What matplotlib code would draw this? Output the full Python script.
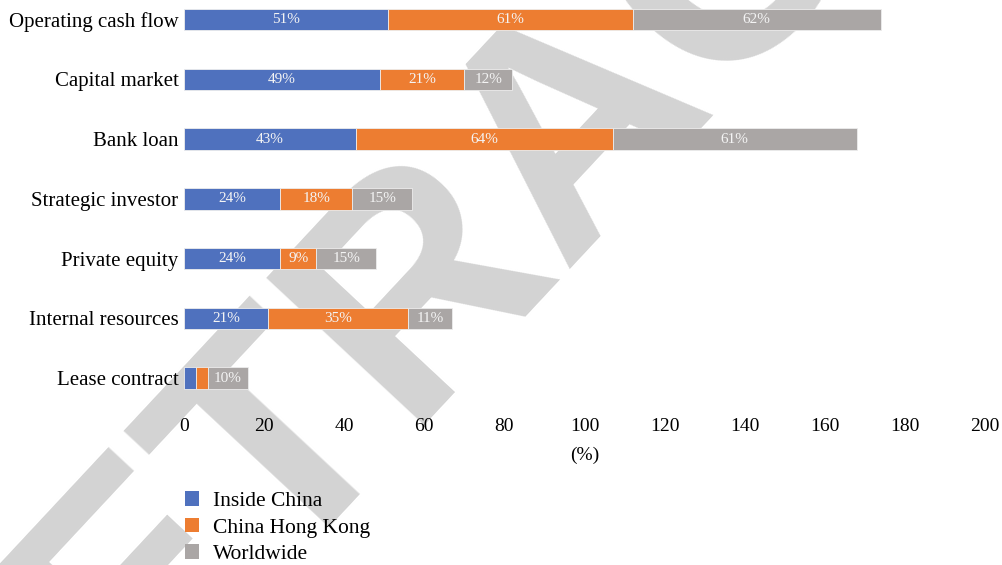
import numpy as np
import matplotlib
matplotlib.use("Agg")
import matplotlib.pyplot as plt
from matplotlib.patches import Patch

plt.rcParams['font.family'] = ['Liberation Serif', 'DejaVu Serif']

categories = ['Operating cash flow', 'Capital market', 'Bank loan', 'Strategic investor',
              'Private equity', 'Internal resources', 'Lease contract']
inside_china = [51, 49, 43, 24, 24, 21, 3]
hong_kong = [61, 21, 64, 18, 9, 35, 3]
worldwide = [62, 12, 61, 15, 15, 11, 10]
series_names = ['Inside China', 'China Hong Kong', 'Worldwide']
colors = ['#4F71BE', '#ED7D31', '#AAA6A5']
xticks = [0, 20, 40, 60, 80, 100, 120, 140, 160, 180, 200]

fig = plt.figure(figsize=(10.03, 5.65), dpi=100)
ax = fig.add_axes([184 / 1003, 1 - 414 / 565, (985 - 184) / 1003, 414 / 565])
ax.set_facecolor('none')

# watermark behind the chart
fig.text(636 / 1003, 1 - 176 / 565, 'RETRACTED', rotation=47, ha='center', va='baseline',
         rotation_mode='anchor', fontsize=226, fontweight='bold', color='#D3D3D3',
         family='Liberation Sans', zorder=-1)

y = np.arange(len(categories))
left = np.zeros(len(categories))
for vals, name, col in zip([inside_china, hong_kong, worldwide], series_names, colors):
    bars = ax.barh(y, vals, left=left, height=0.36, color=col, edgecolor='#EDEDED',
                   linewidth=0.6, label=name)
    labs = [f'{v}%' if v >= 5 else '' for v in vals]
    ax.bar_label(bars, labels=labs, label_type='center', color='#F4F4F4', fontsize=11)
    left += np.array(vals)

ax.set_xlim(0, 200)
ax.set_ylim(6.6, -0.33)
ax.set_yticks(y)
ax.set_yticklabels(categories, fontsize=15)
ax.set_xticks(xticks)
ax.tick_params(axis='x', labelsize=14, length=0, pad=3)
ax.tick_params(axis='y', length=0, pad=4)
for s in ax.spines.values():
    s.set_visible(False)
ax.set_xlabel('(%)', fontsize=14, labelpad=8)

handles = [Patch(facecolor=c) for c in colors]
fig.legend(handles, series_names, loc='upper left', bbox_to_anchor=(185 / 1003, 1 - 491 / 565),
           frameon=False, fontsize=15.5, handlelength=0.66, handleheight=0.66,
           handletextpad=0.62, labelspacing=0.32, borderpad=0, borderaxespad=0)

fig.savefig('out.png', dpi=100, facecolor='white')
